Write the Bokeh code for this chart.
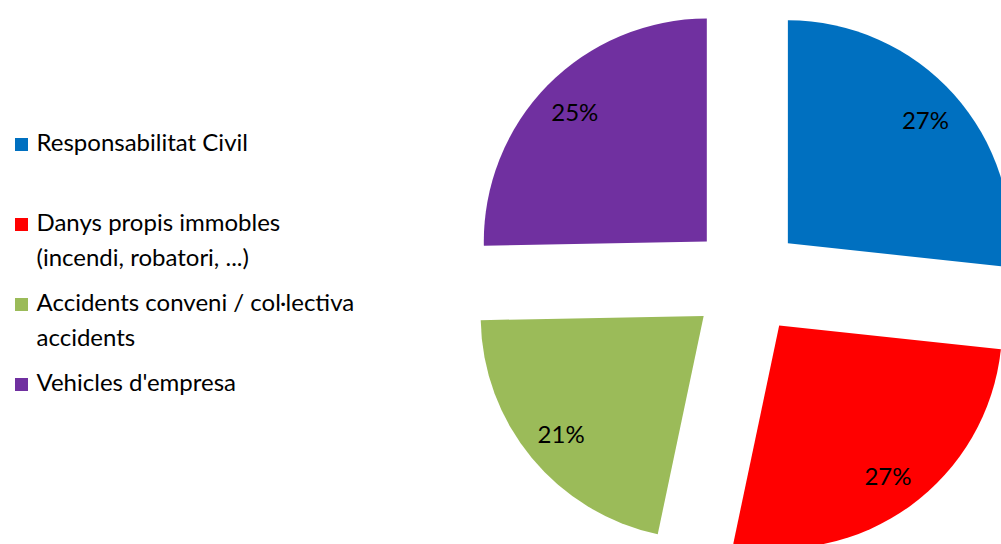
import math
from bokeh.plotting import figure
from bokeh.models import Range1d, ColumnDataSource
from bokeh.embed import file_html
from bokeh.resources import INLINE
from bokeh.core.properties import value

# ---- data ----
categories = [
    "Responsabilitat Civil",
    "Danys propis immobles (incendi, robatori, ...)",
    "Accidents conveni / col·lectiva accidents",
    "Vehicles d'empresa",
]
legend_lines = [
    ["Responsabilitat Civil"],
    ["Danys propis immobles", "(incendi, robatori, ...)"],
    ["Accidents conveni / col·lectiva", "accidents"],
    ["Vehicles d'empresa"],
]
shares = [26.7, 26.6, 21.4, 25.3]
colors = ["#0070C0", "#FF0000", "#9BBB59", "#7030A0"]

# ---- layout (screen px of the picture) ----
W, H = 1001, 544
def dx(x):
    return x
def dy(y):
    return H - y

CX, CY = 746, 280      # pie centre on screen
R = 223                # radius px
EXPLODE = 55.6         # explosion distance px
LABEL_DIST = 185       # label distance from slice apex
FONT = "Lato"

p = figure(width=W, height=H, output_backend="svg", toolbar_location=None,
           x_range=Range1d(0, W), y_range=Range1d(0, H),
           x_axis_type=None, y_axis_type=None, min_border=0,
           outline_line_color=None, background_fill_color="white",
           border_fill_color="white")
p.grid.visible = False

total = sum(shares)
xs, ys, starts, ends, lx, ly, labels = [], [], [], [], [], [], []
cum = 0.0
for v in shares:
    c0 = cum / total
    c1 = (cum + v) / total
    cum += v
    mid = (c0 + c1) / 2 * 2 * math.pi       # clockwise from 12 o'clock
    ox = CX + EXPLODE * math.sin(mid)
    oy = CY - EXPLODE * math.cos(mid)
    xs.append(dx(ox)); ys.append(dy(oy))
    starts.append(math.pi / 2 - 2 * math.pi * c0)
    ends.append(math.pi / 2 - 2 * math.pi * c1)
    lx.append(dx(ox + LABEL_DIST * math.sin(mid)))
    ly.append(dy(oy - LABEL_DIST * math.cos(mid)))
    labels.append(f"{round(v / total * 100)}%")

src = ColumnDataSource(dict(x=xs, y=ys, start=starts, end=ends, color=colors,
                            lx=lx, ly=ly, label=labels, cat=categories))
p.wedge(x="x", y="y", radius=R, radius_units="screen", start_angle="start",
        end_angle="end", direction="clock", fill_color="color",
        line_color=None, source=src)
p.text(x="lx", y="ly", text="label", source=src, text_align="center",
       text_baseline="middle", text_font=value(FONT), text_font_size="24px",
       text_color="#000000")

# ---- legend ----
LEG_BASE = 151
ITEM_STEP = 80
LINE_STEP = 35
TEXT_SHIFT = 10
sq_x, sq_y, tx, ty, tt = [], [], [], [], []
for i, lines in enumerate(legend_lines):
    base = LEG_BASE + i * ITEM_STEP
    sq_x.append(dx(21)); sq_y.append(dy(base - 7))
    for j, t in enumerate(lines):
        tx.append(dx(36)); ty.append(dy(base + j * LINE_STEP - TEXT_SHIFT))
        tt.append(t)

p.scatter(x=sq_x, y=sq_y, marker="square", size=13, fill_color=colors,
          line_color=None)
p.text(x=tx, y=ty, text=tt, text_align="left", text_baseline="alphabetic",
       text_font=value(FONT), text_font_size="24px", text_color="#000000")

open("out.html", "w").write(file_html(p, INLINE))
